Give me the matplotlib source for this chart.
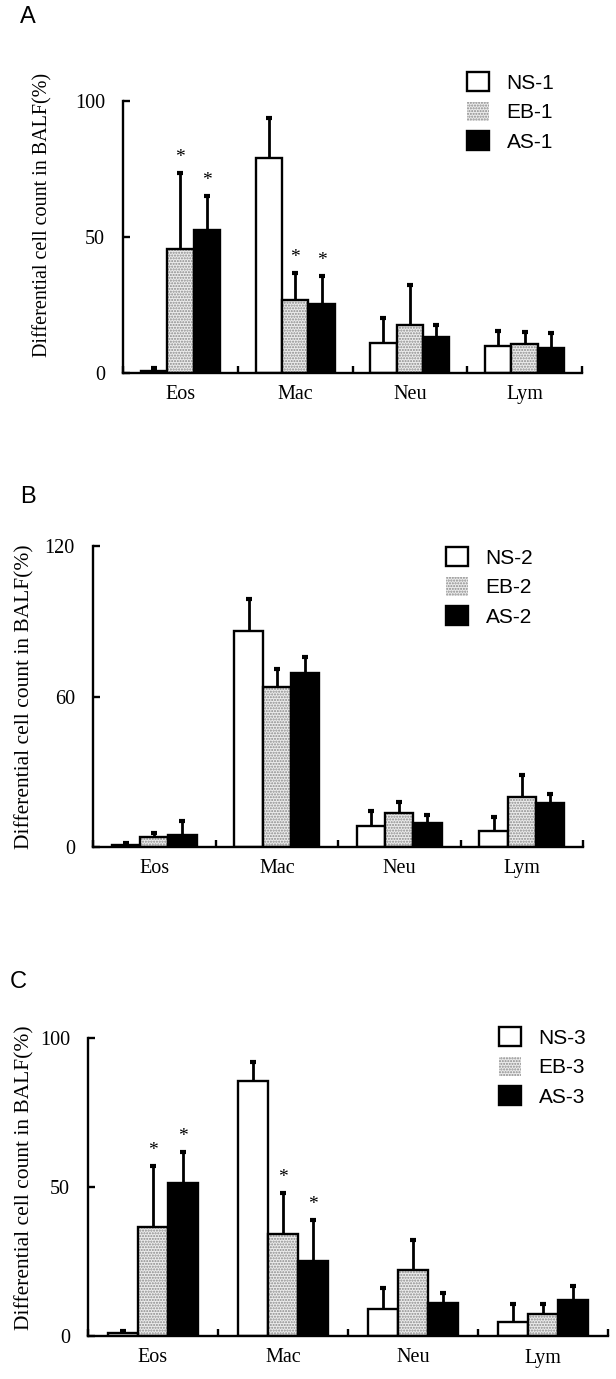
import matplotlib
matplotlib.use("Agg")
import matplotlib.pyplot as plt
import numpy as np

SERIF = "Liberation Serif"
SANS = "Liberation Sans"

categories = ["Eos", "Mac", "Neu", "Lym"]

# Panel A
a_ns = [0.7, 79.0, 11.0, 9.9]
a_ns_err = [1.1, 14.7, 9.2, 5.5]
a_eb = [45.6, 26.8, 17.6, 10.6]
a_eb_err = [27.9, 9.9, 14.8, 4.4]
a_as = [52.6, 25.4, 13.2, 9.2]
a_as_err = [12.4, 10.3, 4.4, 5.5]
a_labels = ["NS-1", "EB-1", "AS-1"]
a_yticks = [0, 50, 100]

# Panel B
b_ns = [0.8, 86.0, 8.4, 6.5]
b_ns_err = [0.8, 13.0, 5.9, 5.6]
b_eb = [4.1, 63.9, 13.4, 20.0]
b_eb_err = [1.5, 7.0, 4.6, 8.7]
b_as = [4.8, 69.4, 9.4, 17.4]
b_as_err = [5.7, 6.4, 3.3, 3.6]
b_labels = ["NS-2", "EB-2", "AS-2"]
b_yticks = [0, 60, 120]

# Panel C
c_ns = [1.0, 85.6, 9.1, 4.6]
c_ns_err = [0.7, 6.5, 6.9, 6.0]
c_eb = [36.7, 34.1, 22.1, 7.4]
c_eb_err = [20.4, 13.8, 10.1, 3.3]
c_as = [51.4, 25.3, 11.2, 12.1]
c_as_err = [10.4, 13.6, 3.3, 4.8]
c_labels = ["NS-3", "EB-3", "AS-3"]
c_yticks = [0, 50, 100]

# significance marks: (group index, category index); group 1 = EB, 2 = AS
a_stars = [(1, 0), (2, 0), (1, 1), (2, 1)]
b_stars = []
c_stars = [(1, 0), (2, 0), (1, 1), (2, 1)]

W = 0.23


def draw_panel(ax, means, errs, labels, yticks, stars, legend_anchor):
    x = np.arange(len(categories))
    offsets = [-W, 0, W]
    handles = []
    tops = []
    for i, (m, e) in enumerate(zip(means, errs)):
        xs = x + offsets[i]
        m = np.array(m)
        top = m + np.array(e)
        if i == 0:
            h = ax.bar(xs, m, W, color="white", edgecolor="black", linewidth=1.7, zorder=2)
        elif i == 1:
            h = ax.bar(xs, m, W, color="#ececec", edgecolor="#8a8a8a", linewidth=0,
                       hatch="......", zorder=2)
            ax.bar(xs, m, W, fill=False, edgecolor="black", linewidth=1.7, zorder=3)
        else:
            h = ax.bar(xs, m, W, color="black", edgecolor="black", linewidth=1.7, zorder=2)
        handles.append(h)
        # upper error bar only, with a short thick cap
        ax.vlines(xs, m, top, color="black", linewidth=2.0, zorder=4)
        ax.plot(xs, top, linestyle="none", marker="_", markersize=4,
                markeredgewidth=3, color="black", zorder=4)
        tops.append(top)

    for g, c in stars:
        ax.annotate("*", (x[c] + offsets[g], tops[g][c]), xytext=(0, 8),
                    textcoords="offset points", ha="center", va="baseline",
                    fontsize=14, family=SERIF)

    ax.set_xlim(-0.5, len(categories) - 0.5)
    ax.set_ylim(yticks[0], yticks[-1])
    ax.set_yticks(yticks)
    ax.set_xticks(x)
    ax.set_xticklabels(categories, family=SERIF, fontsize=14.5)
    ax.set_xticks(np.arange(len(categories) + 1) - 0.5, minor=True)
    ax.tick_params(axis="x", which="major", length=0, pad=9)
    ax.tick_params(axis="x", which="minor", direction="in", length=5, width=1.7)
    ax.tick_params(axis="y", direction="in", length=5, width=1.7, pad=13, labelsize=14.5)
    for t in ax.get_yticklabels():
        t.set_family(SERIF)
    for s in ["top", "right"]:
        ax.spines[s].set_visible(False)
    for s in ["left", "bottom"]:
        ax.spines[s].set_linewidth(1.7)

    ax.legend(handles, labels, loc="upper left", bbox_to_anchor=legend_anchor,
              frameon=False, prop={"family": SANS, "size": 15},
              handlelength=1.05, handleheight=1.05, handletextpad=0.85,
              labelspacing=0.42, borderpad=0, borderaxespad=0)


fig = plt.figure(figsize=(6.16, 13.79), dpi=100)
W_PX, H_PX = 616, 1379


def add_axes(left, right, top, bottom):
    return fig.add_axes([left / W_PX, 1 - bottom / H_PX, (right - left) / W_PX,
                         (bottom - top) / H_PX])


ax_a = add_axes(123, 582, 101, 373)
ax_b = add_axes(93, 583, 546, 847)
ax_c = add_axes(88, 608, 1038, 1336)

draw_panel(ax_a, [a_ns, a_eb, a_as], [a_ns_err, a_eb_err, a_as_err], a_labels,
           a_yticks, a_stars, ((467 - 123) / 459, (373 - 72) / 272))
draw_panel(ax_b, [b_ns, b_eb, b_as], [b_ns_err, b_eb_err, b_as_err], b_labels,
           b_yticks, b_stars, ((446 - 93) / 490, (847 - 547) / 301))
draw_panel(ax_c, [c_ns, c_eb, c_as], [c_ns_err, c_eb_err, c_as_err], c_labels,
           c_yticks, c_stars, ((499 - 88) / 520, (1336 - 1027) / 298))

ylabel = "Differential cell count in BALF(%)"
fig.text(43 / W_PX, 1 - 215 / H_PX, ylabel, rotation=90, ha="center", va="center",
         family=SERIF, fontsize=14.5)
fig.text(25 / W_PX, 1 - 697 / H_PX, ylabel, rotation=90, ha="center", va="center",
         family=SERIF, fontsize=15.5)
fig.text(25 / W_PX, 1 - 1178 / H_PX, ylabel, rotation=90, ha="center", va="center",
         family=SERIF, fontsize=15.5)

for lbl, xp, yp in [("A", 20, 17), ("B", 20, 497), ("C", 10, 982)]:
    fig.text(xp / W_PX, 1 - yp / H_PX, lbl, ha="left", va="center", family=SANS, fontsize=17)

fig.savefig("out.png", dpi=100)
